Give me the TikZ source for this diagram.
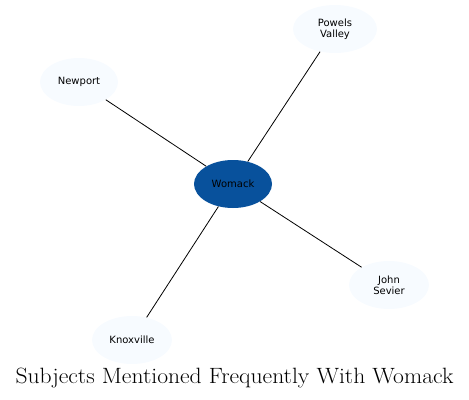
\documentclass[tikz,border=0pt]{standalone}
\usepackage{graphicx}
\usepackage{fontspec}
\newfontfamily\nodefont{DejaVu Sans}
\usetikzlibrary{shapes.geometric}
\definecolor{hubblue}{HTML}{08519C}
\definecolor{paleblue}{HTML}{F7FBFF}
\tikzset{
    subj/.style={ellipse, fill=paleblue, inner sep=0pt, minimum width=58.5pt,
        minimum height=36pt, align=center, font=\nodefont\fontsize{7.5}{8.5}\selectfont},
    hub/.style={subj, fill=hubblue},
    link/.style={line width=0.6pt},
}
\begin{document}
\begin{tikzpicture}[x=0.75pt, y=-0.75pt]
    \useasboundingbox (0,0) rectangle (469,400);

    % centre node
    \node[hub] (womack) at (233,184) {Womack};

    % surrounding subjects
    \node[subj, minimum width=63pt] (powels) at (335,29) {Powels\\Valley};
    \node[subj] (newport) at (79,82) {Newport};
    \node[subj, minimum width=60pt] (sevier) at (389,285) {John\\Sevier};
    \node[subj, minimum width=60pt] (knox) at (132,340) {Knoxville};

    \draw[link] (womack) -- (powels);
    \draw[link] (womack) -- (newport);
    \draw[link] (womack) -- (sevier);
    \draw[link] (womack) -- (knox);

    % title, widened to the original's letter widths
    \node[font=\fontsize{16.6}{19}\selectfont] (title) at (234.5,378.5)
        {\scalebox{1.066}[1]{Subjects Mentioned Frequently With Womack}};
\end{tikzpicture}
\end{document}
